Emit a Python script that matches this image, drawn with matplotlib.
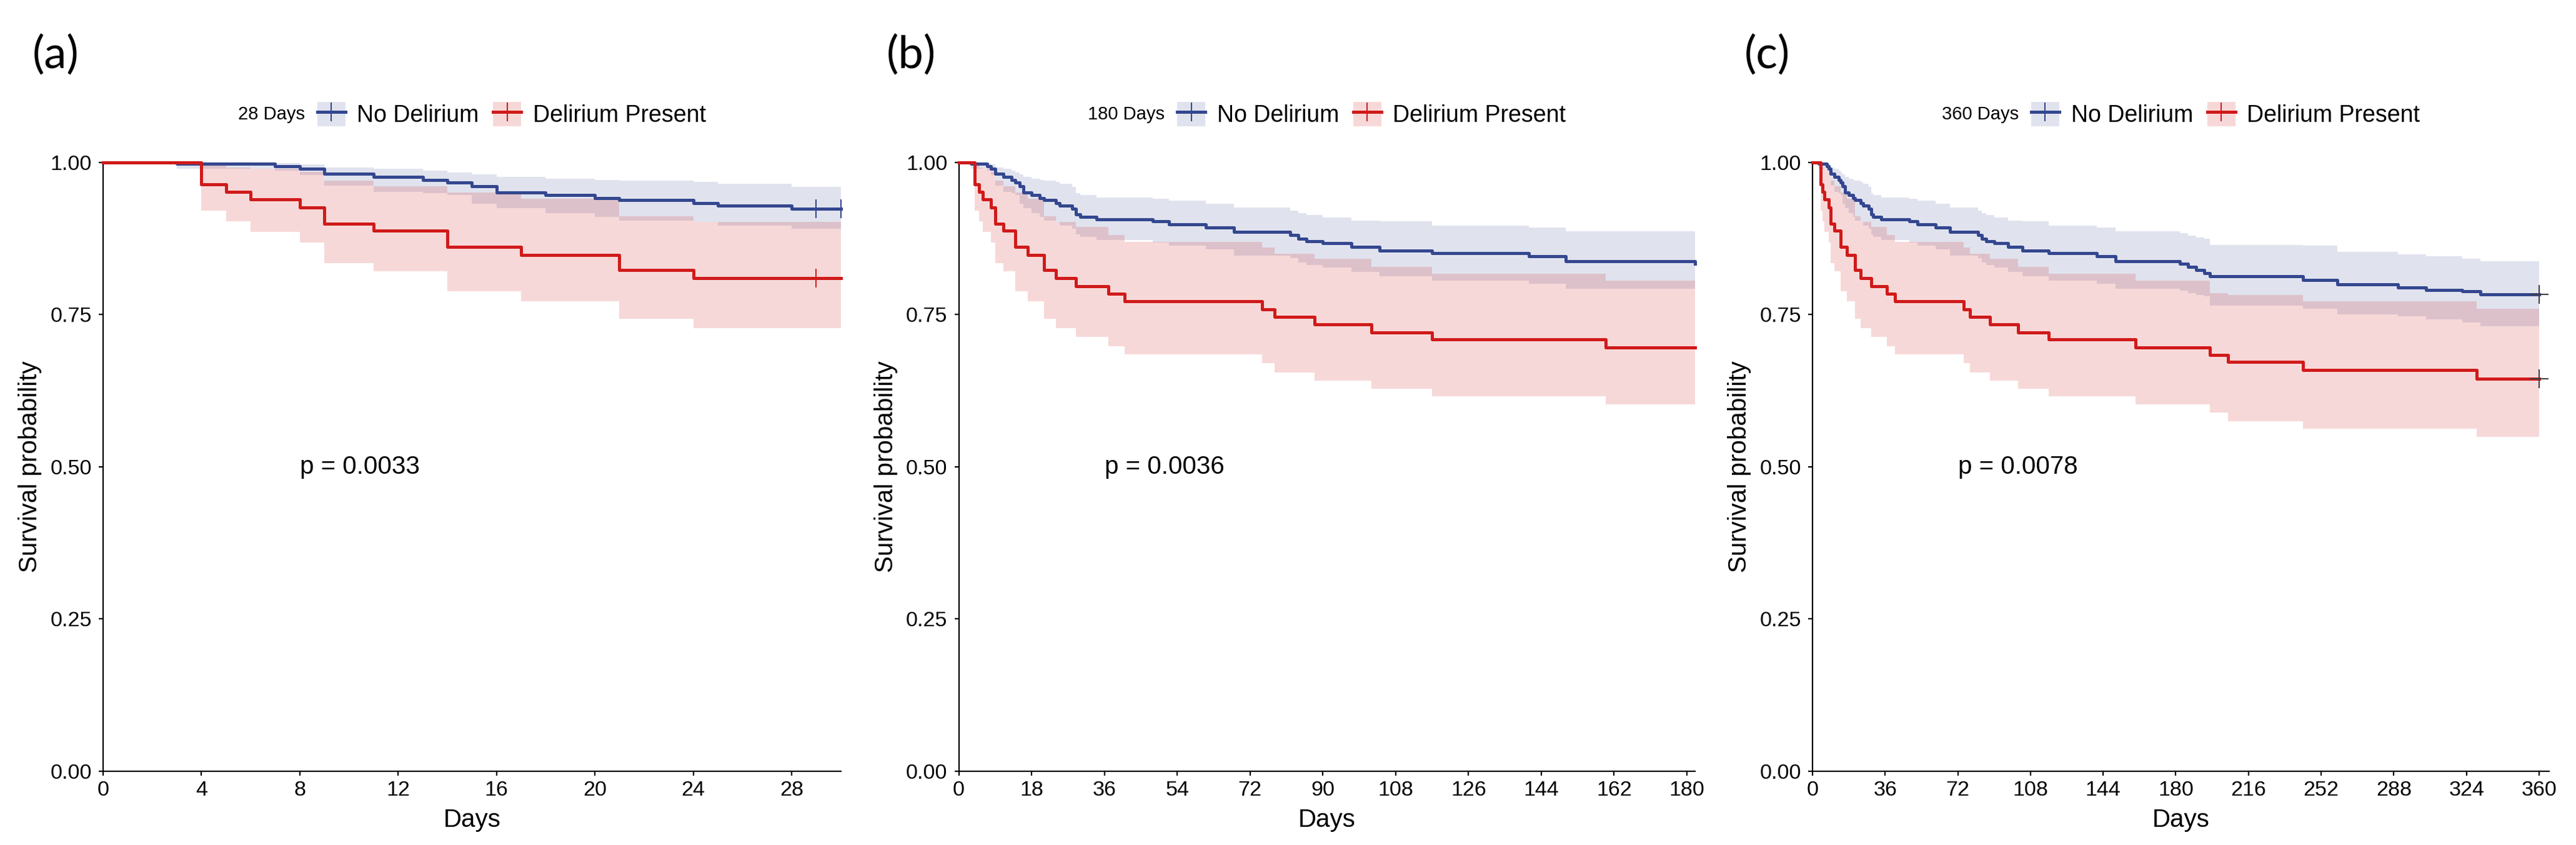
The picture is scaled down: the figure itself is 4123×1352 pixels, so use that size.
import numpy as np
import matplotlib
matplotlib.use('Agg')
import matplotlib.pyplot as plt
from matplotlib.patches import Patch
from matplotlib.lines import Line2D

plt.rcParams['font.family'] = ['Liberation Sans', 'DejaVu Sans']

# Kaplan-Meier steps (day of event -> survival, 95% CI)
# No Delirium
nd_time = [0, 3, 7, 8, 9, 11, 13, 14, 15, 16, 18, 20, 21, 24, 25, 28, 29, 30, 34, 48,
           52, 61, 68, 82, 84, 86, 90, 97, 104, 117, 141, 150, 182, 186, 190, 194, 197, 243, 260, 290,
           304, 322, 331]
nd_surv = [1.0, 0.998, 0.994, 0.990, 0.981, 0.976, 0.971, 0.967, 0.961, 0.951, 0.947, 0.941, 0.938, 0.933, 0.929, 0.924, 0.915, 0.911, 0.907, 0.903,
           0.898, 0.893, 0.886, 0.881, 0.875, 0.871, 0.868, 0.861, 0.855, 0.851, 0.846, 0.838, 0.834, 0.829, 0.823, 0.818, 0.813, 0.807, 0.800, 0.795,
           0.791, 0.788, 0.783]
nd_upper = [1.0, 1.0, 0.999, 0.997, 0.992, 0.990, 0.987, 0.984, 0.980, 0.976, 0.973, 0.971, 0.970, 0.968, 0.965, 0.960, 0.950, 0.947, 0.943, 0.940,
            0.937, 0.932, 0.926, 0.921, 0.917, 0.914, 0.910, 0.905, 0.903, 0.896, 0.893, 0.887, 0.884, 0.880, 0.877, 0.875, 0.864, 0.863, 0.853, 0.849,
            0.846, 0.842, 0.838]
nd_lower = [1.0, 0.990, 0.987, 0.979, 0.962, 0.952, 0.950, 0.947, 0.932, 0.925, 0.917, 0.911, 0.905, 0.902, 0.896, 0.891, 0.882, 0.878, 0.873, 0.869,
            0.863, 0.857, 0.847, 0.843, 0.836, 0.832, 0.828, 0.820, 0.813, 0.806, 0.801, 0.793, 0.789, 0.785, 0.782, 0.780, 0.765, 0.760, 0.750, 0.747,
            0.742, 0.737, 0.731]

# Delirium Present
dp_time = [0, 4, 5, 6, 8, 9, 11, 14, 17, 21, 24, 29, 37, 41, 75, 78, 88, 102, 117, 160, 197, 206, 243, 329]
dp_surv = [1.0, 0.964, 0.952, 0.939, 0.926, 0.899, 0.888, 0.861, 0.848, 0.823, 0.810, 0.797, 0.784, 0.772, 0.759, 0.746, 0.734, 0.721, 0.709, 0.696,
           0.684, 0.672, 0.659, 0.645]
dp_lower = [1.0, 0.921, 0.903, 0.886, 0.869, 0.835, 0.821, 0.788, 0.772, 0.743, 0.728, 0.714, 0.698, 0.685, 0.670, 0.655, 0.642, 0.628, 0.616, 0.603,
            0.589, 0.575, 0.563, 0.549]
dp_upper = [1.0, 0.995, 0.992, 0.990, 0.985, 0.970, 0.961, 0.951, 0.940, 0.912, 0.902, 0.894, 0.881, 0.870, 0.860, 0.850, 0.842, 0.829, 0.817, 0.806,
            0.785, 0.782, 0.772, 0.760]

group_labels = ['No Delirium', 'Delirium Present']

# panels
panel_tags = ['(a)', '(b)', '(c)']
panel_titles = ['28 Days', '180 Days', '360 Days']
panel_pvals = ['p = 0.0033', 'p = 0.0036', 'p = 0.0078']
panel_last_event = [28, 182, 360]
panel_end = [30, 182, 360]
panel_xmax = [30, 182, 365]
panel_xstep = [4, 18, 36]
panel_pval_x = [8, 36, 72]
nd_censor = [[29, 30], [], [360]]
dp_censor = [[29], [], [360]]
censor_marker = ['|', '+', '+']

BLUE = '#34478F'
RED = '#D01A1A'
BLUE_A = 0.15
RED_A = 0.17


def km_steps(time, surv, lower, upper, last_event, end):
    t = np.array(time, float)
    keep = t <= last_event
    out = [np.append(t[keep], end)]
    for arr in (surv, lower, upper):
        a = np.array(arr, float)[keep]
        out.append(np.append(a, a[-1]))
    return out


fig = plt.figure(figsize=(41.23, 13.52), dpi=100)
positions = [[0.0400, 0.0873, 0.2864, 0.7204],
             [0.3722, 0.0873, 0.2858, 0.7204],
             [0.7036, 0.0873, 0.2860, 0.7204]]
tag_x = [0.0125, 0.3440, 0.6770]

items = []
for i in range(3):
    ax = fig.add_axes(positions[i])
    groups = [(nd_time, nd_surv, nd_lower, nd_upper, BLUE, BLUE_A, nd_censor[i]),
              (dp_time, dp_surv, dp_lower, dp_upper, RED, RED_A, dp_censor[i])]
    for tm, sv, lo, hi, col, al, cens in groups:
        t, s, l, h = km_steps(tm, sv, lo, hi, panel_last_event[i], panel_end[i])
        ax.fill_between(t, l, h, step='post', color=col, alpha=al, lw=0)
    for tm, sv, lo, hi, col, al, cens in groups:
        t, s, l, h = km_steps(tm, sv, lo, hi, panel_last_event[i], panel_end[i])
        ax.step(t, s, where='post', color=col, lw=3.6, clip_on=False, zorder=3)
        if cens:
            cy = [s[np.searchsorted(t, c, side='right') - 1] for c in cens]
            mc = col if i == 0 else '#404040'
            ax.plot(cens, cy, ls='none', marker=censor_marker[i], ms=22, mew=1.5, color=mc,
                    clip_on=False, zorder=4)

    ax.set_xlim(0, panel_xmax[i])
    ax.set_ylim(0, 1)
    ax.set_xticks(np.arange(0, panel_end[i] + 1, panel_xstep[i]))
    ax.set_yticks([0, 0.25, 0.5, 0.75, 1.0])
    ax.set_yticklabels(['0.00', '0.25', '0.50', '0.75', '1.00'])
    for sp in ['top', 'right']:
        ax.spines[sp].set_visible(False)
    for sp in ['left', 'bottom']:
        ax.spines[sp].set_linewidth(1.6)
    ax.tick_params(axis='both', direction='out', length=5, width=1.6, labelsize=24.5)
    ax.tick_params(axis='x', pad=6)
    ax.tick_params(axis='y', pad=8)

    ax.set_xlabel('Days', fontsize=29, va='center')
    ax.set_ylabel('Survival probability', fontsize=29, va='center')
    ax.xaxis.set_label_coords(0.5, -0.080)
    ax.yaxis.set_label_coords(-0.099, 0.5)

    ax.text(panel_pval_x[i], 0.5, panel_pvals[i], fontsize=29, ha='left', va='center')

    handles = [(Patch(facecolor=BLUE, alpha=BLUE_A, edgecolor='none'),
                Line2D([0], [0], color=BLUE, lw=3.6, marker='|', ms=21, mew=1.5)),
               (Patch(facecolor=RED, alpha=RED_A, edgecolor='none'),
                Line2D([0], [0], color=RED, lw=3.6, marker='|', ms=21, mew=1.5))]
    leg = ax.legend(handles, group_labels, loc='center', bbox_to_anchor=(0.5, 1.079),
                    ncol=2, frameon=False, fontsize=27, handlelength=1.2,
                    handleheight=1.22, handletextpad=0.5, columnspacing=0.6,
                    borderpad=0, borderaxespad=0, numpoints=1)
    ttl = ax.text(0.0, 1.079, panel_titles[i], fontsize=21, ha='right', va='center',
                  transform=ax.transAxes, clip_on=False)
    items.append((ax, leg, ttl))

    fig.text(tag_x[i], 0.935, panel_tags[i], fontsize=52, ha='left', va='center',
             family=['Lato', 'DejaVu Sans'])

# centre title + legend together above each plot
fig.canvas.draw()
renderer = fig.canvas.get_renderer()
for ax, leg, ttl in items:
    lb = leg.get_window_extent(renderer)
    tb = ttl.get_window_extent(renderer)
    gap = 20
    total = tb.width + gap + lb.width
    axb = ax.get_window_extent(renderer)
    left = (axb.x0 + axb.x1) / 2 - total / 2
    inv = ax.transAxes.inverted()
    leg_x = inv.transform((left + tb.width + gap + lb.width / 2, 0))[0]
    ttl_x = inv.transform((left + tb.width, 0))[0]
    leg.set_bbox_to_anchor((leg_x, 1.079), transform=ax.transAxes)
    ttl.set_position((ttl_x, 1.079))

fig.savefig('out.png', dpi=100)
